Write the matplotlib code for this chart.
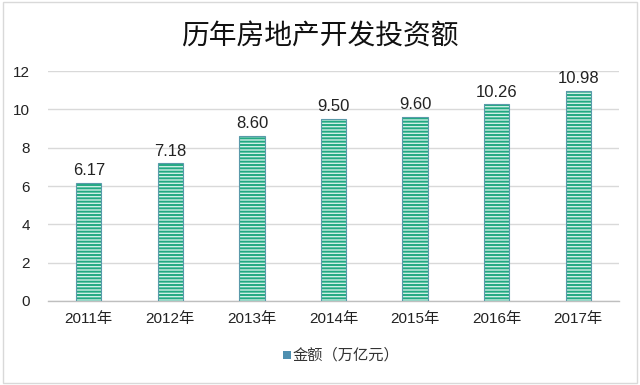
import matplotlib
matplotlib.use("Agg")
import matplotlib.pyplot as plt
from matplotlib.patches import Rectangle

plt.rcParams['font.family'] = ['Liberation Sans', 'Noto Sans CJK SC', 'DejaVu Sans']
plt.rcParams['hatch.linewidth'] = 1.4

years = ['2011年', '2012年', '2013年', '2014年', '2015年', '2016年', '2017年']
values = [6.17, 7.18, 8.60, 9.50, 9.60, 10.26, 10.98]
labels = ['6.17', '7.18', '8.60', '9.50', '9.60', '10.26', '10.98']
title = '历年房地产开发投资额'
legend_label = '金额（万亿元）'

fig = plt.figure(figsize=(6.4, 3.85), dpi=100)
fig.patch.set_facecolor('white')
# outer border
fig.add_artist(Rectangle((0.004, 0.004), 0.992, 0.99, transform=fig.transFigure,
                         fill=False, edgecolor='#d9d9d9', linewidth=1.0))

ax = fig.add_axes([48/640, 1 - 301/385, 571/640, 230/385])
x = list(range(len(years)))
ax.bar(x, values, width=0.31, color='#cfeee6', edgecolor='#22a982',
       hatch='-----', linewidth=0, zorder=3)
ax.bar(x, values, width=0.31, fill=False, edgecolor='#5a9aaa', linewidth=0.8, zorder=4)

for xi, v, lab in zip(x, values, labels):
    ax.text(xi, v + 0.25, lab, ha='center', va='bottom', fontsize=12, color='#222222')

ax.set_xlim(-0.5, len(years) - 0.5)
ax.set_ylim(0, 12)
ax.set_yticks([0, 2, 4, 6, 8, 10, 12])
ax.set_xticks(x)
ax.set_xticklabels(years, family=['Liberation Sans', 'Noto Sans CJK SC'])
ax.tick_params(axis='both', length=0, labelsize=11, colors='#222222')
ax.tick_params(axis='y', pad=13)
ax.tick_params(axis='x', pad=8)
ax.grid(axis='y', color='#d9d9d9', linewidth=1.0, zorder=0)
for s in ['top', 'right', 'left']:
    ax.spines[s].set_visible(False)
ax.spines['bottom'].set_color('#bfbfbf')
ax.spines['bottom'].set_linewidth(1.0)

fig.text(0.5, 1 - 36/385, title, ha='center', va='center', fontsize=20,
         family=['Noto Sans CJK SC'], color='#111111')

# legend
fig.add_artist(Rectangle((283/640, 1 - 359/385), 8/640, 8/385, transform=fig.transFigure,
                         facecolor='#4e8fb0', edgecolor='none'))
fig.text(293/640, 1 - 355/385, legend_label, ha='left', va='center', fontsize=11,
         family=['Noto Sans CJK SC'], color='#333333')

fig.savefig('out.png', dpi=100)
